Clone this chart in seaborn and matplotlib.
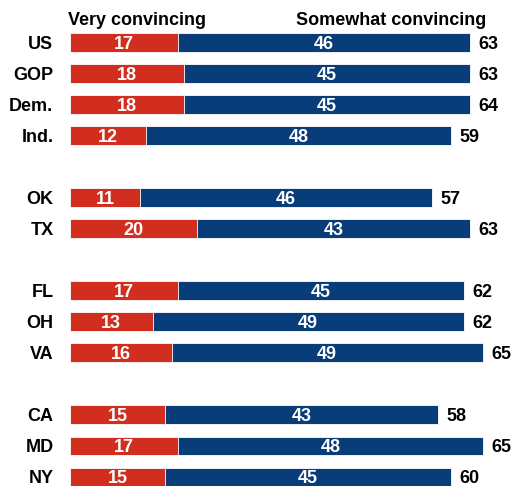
import matplotlib
matplotlib.use("Agg")
import matplotlib.pyplot as plt
import seaborn as sns
import pandas as pd

sns.set_theme(style="white")
plt.rcParams["font.family"] = ["Liberation Sans", "DejaVu Sans"]

groups = ["US", "GOP", "Dem.", "Ind.", "OK", "TX", "FL", "OH", "VA", "CA", "MD", "NY"]
very = [17, 18, 18, 12, 11, 20, 17, 13, 16, 15, 17, 15]
somewhat = [46, 45, 45, 48, 46, 43, 45, 49, 49, 43, 48, 45]
totals = [63, 63, 64, 59, 57, 63, 62, 62, 65, 58, 65, 60]
# row slots, with an empty slot between each block of rows
rows = [0, 1, 2, 3, 5, 6, 8, 9, 10, 12, 13, 14]

RED = "#D12E20"
BLUE = "#083D79"

df = pd.DataFrame({"group": groups, "very": very, "somewhat": somewhat,
                   "total": totals, "row": rows})
df["stack"] = df["very"] + df["somewhat"]

fig = plt.figure(figsize=(5.14, 4.86), dpi=100)
ax = fig.add_axes([70 / 514, 0, 444 / 514, 1])

sns.barplot(data=df, x="stack", y="row", orient="h", native_scale=True,
            color=BLUE, width=0.61, saturation=1, edgecolor="white",
            linewidth=0.6, ax=ax)
sns.barplot(data=df, x="very", y="row", orient="h", native_scale=True,
            color=RED, width=0.61, saturation=1, edgecolor="white",
            linewidth=0.6, ax=ax)

ax.set_xlim(0, 444 / 6.35)
ax.set_ylim(14.29, -1.37)
ax.axis("off")

font = dict(fontsize=13, fontweight="bold")
dy = 0.2  # half of the cap height, in row units
for _, r in df.iterrows():
    y = r["row"] + dy
    ax.text(r["very"] / 2, y, str(r["very"]), color="white",
            ha="center", va="baseline", **font)
    ax.text(r["very"] + r["somewhat"] / 2, y, str(r["somewhat"]),
            color="white", ha="center", va="baseline", **font)
    ax.text(r["stack"] + 1.35, y, str(r["total"]), color="black",
            ha="left", va="baseline", **font)
    ax.text(-2.6, y, r["group"], color="black", ha="right",
            va="baseline", **font)

ax.text(10.6, -0.55, "Very convincing", ha="center", va="baseline",
        color="black", **font)
ax.text(50.5, -0.55, "Somewhat convincing", ha="center", va="baseline",
        color="black", **font)

fig.savefig("out.png", dpi=100)
